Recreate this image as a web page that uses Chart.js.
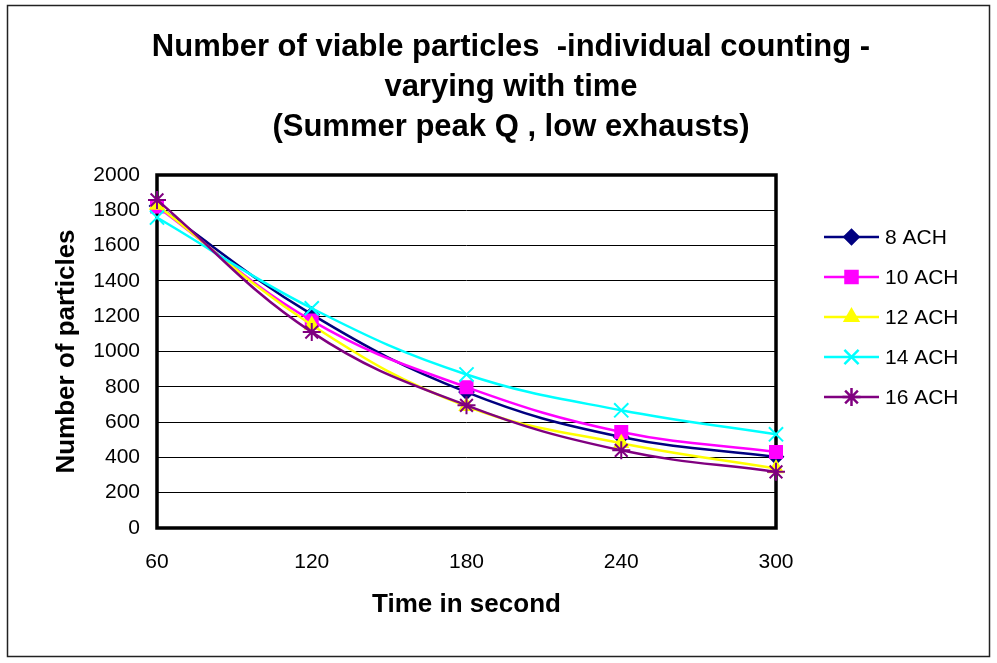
<!DOCTYPE html>
<html>
<head>
<meta charset="utf-8">
<script src="https://cdn.jsdelivr.net/npm/chart.js@4/dist/chart.umd.min.js"></script>
<style>
  html, body { margin: 0; padding: 0; background: #fff; }
  #wrap { width: 997px; height: 663px; }
</style>
</head>
<body>
<div id="wrap"><canvas id="chart" width="997" height="663"></canvas></div>
<script>
// values
const times = ['60', '120', '180', '240', '300'];
const ach8  = [1825, 1210, 770, 516, 403];
const ach10 = [1821, 1175, 798, 544, 431];
const ach12 = [1830, 1150, 690, 480, 337];
const ach14 = [1759, 1245, 870, 667, 531];
const ach16 = [1859, 1110, 695, 440, 318];
const seriesNames = ['8 ACH', '10 ACH', '12 ACH', '14 ACH', '16 ACH'];
const yTicks = { min: 0, max: 2000, step: 200 };

const FONT = 'Arial, "Liberation Sans", sans-serif';

// marker look for each series (Excel style)
const looks = [
    { color: '#000080', style: 'rectRot', radius: 7 },
    { color: '#FF00FF', style: 'rect', radius: 8.5 },
    { color: '#FFFF00', style: 'triangle', radius: 7.5 },
    { color: '#00FFFF', style: 'crossRot', radius: 10 },
    { color: '#800080', style: 'star', radius: 9 }
];

const allSeries = [ach8, ach10, ach12, ach14, ach16];

const datasets = allSeries.map(function(values, i) {
    return {
        label: seriesNames[i],
        data: values,
        borderColor: looks[i].color,
        backgroundColor: looks[i].color,
        borderWidth: 2.5,
        pointStyle: looks[i].style,
        pointRadius: looks[i].radius,
        pointBorderWidth: 2,
        pointBackgroundColor: looks[i].color,
        pointBorderColor: looks[i].color,
        tension: 0.4,
        fill: false,
        order: allSeries.length - i   // later series drawn on top, like Excel
    };
});

// white page + thin outer frame
const frame = {
    id: 'frame',
    beforeDraw(chart) {
        const ctx = chart.ctx;
        ctx.save();
        ctx.fillStyle = '#fff';
        ctx.fillRect(0, 0, chart.width, chart.height);
        ctx.strokeStyle = '#222';
        ctx.lineWidth = 1.5;
        ctx.strokeRect(7.5, 5.5, 982, 651);
        ctx.restore();
    }
};

// thick black box round the plot area
const plotBox = {
    id: 'plotBox',
    beforeDatasetsDraw(chart) {
        const a = chart.chartArea;
        const ctx = chart.ctx;
        ctx.save();
        ctx.strokeStyle = '#000';
        ctx.lineWidth = 3.5;
        ctx.strokeRect(a.left, a.top, a.right - a.left, a.bottom - a.top);
        ctx.restore();
    }
};

// legend with line + marker, drawn in the space kept free on the right
const lineLegend = {
    id: 'lineLegend',
    afterDraw(chart) {
        const a = chart.chartArea;
        const ctx = chart.ctx;
        const x0 = a.right + 48;
        const y0 = a.top + 62;
        ctx.save();
        chart.data.datasets.forEach(function(ds, i) {
            const y = y0 + i * 40;
            ctx.strokeStyle = ds.borderColor;
            ctx.lineWidth = 2.5;
            ctx.beginPath();
            ctx.moveTo(x0, y);
            ctx.lineTo(x0 + 55, y);
            ctx.stroke();
            ctx.fillStyle = ds.pointBackgroundColor;
            ctx.strokeStyle = ds.pointBorderColor;
            Chart.helpers.drawPoint(ctx, {
                pointStyle: ds.pointStyle,
                radius: ds.pointRadius,
                rotation: 0,
                borderWidth: ds.pointBorderWidth
            }, x0 + 27.5, y);
            ctx.fillStyle = '#000';
            ctx.font = '21px ' + FONT;
            ctx.textBaseline = 'middle';
            ctx.textAlign = 'left';
            ctx.fillText(ds.label, x0 + 61, y + 1);
        });
        ctx.restore();
    }
};

const ctx = document.getElementById('chart').getContext('2d');
const chart = new Chart(ctx, {
    type: 'line',
    data: { labels: times, datasets: datasets },
    options: {
        responsive: false,
        animation: false,
        layout: { padding: { left: 25, right: 0, top: 0, bottom: 0 } },
        plugins: {
            legend: { display: false },
            tooltip: { enabled: false },
            title: {
                display: true,
                text: ['Number of viable particles  -individual counting -',
                       'varying with time',
                       '(Summer peak Q , low exhausts)'],
                color: '#000',
                font: { family: FONT, size: 31, weight: 'bold', lineHeight: '40px' },
                padding: { top: 27, bottom: 28 }
            }
        },
        scales: {
            x: {
                type: 'category',
                offset: false,
                grid: { display: false, drawTicks: false },
                border: { display: false },
                ticks: { color: '#000', font: { family: FONT, size: 21 }, padding: 22, maxRotation: 0 },
                title: {
                    display: true,
                    text: 'Time in second',
                    color: '#000',
                    font: { family: FONT, size: 26, weight: 'bold' },
                    padding: { top: 0, bottom: 43 }
                },
                afterFit(scale) { scale.height = 135; }
            },
            y: {
                min: yTicks.min,
                max: yTicks.max,
                grid: { color: '#000', lineWidth: 1, drawTicks: false },
                border: { display: false },
                ticks: {
                    stepSize: yTicks.step,
                    color: '#000',
                    font: { family: FONT, size: 21 },
                    padding: 17,
                    callback: function(v) { return String(v); }
                },
                title: {
                    display: true,
                    text: 'Number of particles',
                    color: '#000',
                    font: { family: FONT, size: 26, weight: 'bold' },
                    padding: { top: 26, bottom: 0 }
                },
                afterFit(scale) { scale.width = 132; }
            },
            // keeps room on the right for the legend
            legendSpace: {
                type: 'linear',
                position: 'right',
                display: true,
                grid: { display: false },
                border: { display: false },
                ticks: { display: false },
                afterFit(scale) { scale.width = 221; }
            }
        }
    },
    plugins: [frame, plotBox, lineLegend]
});
</script>
</body>
</html>
